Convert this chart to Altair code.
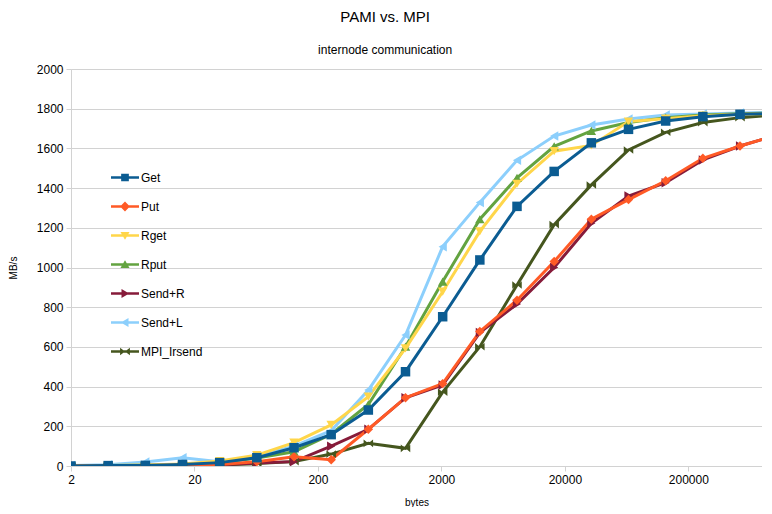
import altair as alt
import pandas as pd

bytes_sizes = [2, 4, 8, 16, 32, 64, 128, 256, 512, 1024, 2048, 4096, 8192,
               16384, 32768, 65536, 131072, 262144, 524288, 1048576]

series_names = ["Get", "Put", "Rget", "Rput", "Send+R", "Send+L", "MPI_Irsend"]

get_vals = [0, 2, 3, 8, 17, 42, 92, 158, 282, 475, 752, 1038, 1308, 1484, 1628, 1696, 1738, 1760, 1772, 1776]
put_vals = [0, 0, 2, 4, 8, 22, 47, 32, 185, 344, 415, 678, 835, 1030, 1243, 1342, 1437, 1550, 1612, 1668]
rget_vals = [0, 2, 5, 10, 25, 55, 118, 207, 349, 593, 878, 1182, 1422, 1586, 1615, 1735, 1750, 1765, 1772, 1777]
rput_vals = [0, 2, 4, 8, 18, 40, 72, 160, 310, 601, 929, 1243, 1452, 1610, 1688, 1730, 1755, 1768, 1775, 1778]
sendr_vals = [0, 0, 2, 4, 6, 15, 22, 100, 185, 344, 408, 672, 816, 1000, 1223, 1360, 1427, 1542, 1612, 1668]
sendl_vals = [2, 6, 20, 42, 22, 50, 100, 178, 383, 660, 1105, 1328, 1540, 1662, 1718, 1748, 1768, 1773, 1778, 1782]
mpi_vals = [0, 0, 1, 3, 5, 12, 22, 60, 114, 89, 372, 601, 912, 1216, 1416, 1592, 1681, 1730, 1755, 1768]

all_vals = [get_vals, put_vals, rget_vals, rput_vals, sendr_vals, sendl_vals, mpi_vals]

colors = ["#0b5c92", "#ff5a26", "#ffd64a", "#63a340", "#861b3a", "#8ccffc", "#45561e"]

marker_shapes = [
    "square", "diamond", "triangle-down", "triangle-up", "triangle-right", "triangle-left",
    "M-1,-0.8L0,0L-1,0.8Z M1,-0.8L1,0.8L0,0Z",
]

LINE = "M-2,-0.17H2V0.17H-2Z "
legend_shapes = [
    LINE + "M-0.55,-0.55H0.55V0.55H-0.55Z",
    LINE + "M0,-0.7L0.7,0L0,0.7L-0.7,0Z",
    LINE + "M-0.65,-0.5H0.65L0,0.6Z",
    LINE + "M0,-0.6L0.65,0.5H-0.65Z",
    LINE + "M-0.5,-0.65L0.6,0L-0.5,0.65Z",
    LINE + "M0.5,-0.65L0.5,0.65L-0.6,0Z",
    LINE + "M-0.7,-0.55L0,0L-0.7,0.55Z M0.7,-0.55L0.7,0.55L0,0Z",
]

# rows built last-series-first so that the first series are drawn on top
rows = []
for name, vals in reversed(list(zip(series_names, all_vals))):
    for b, v in zip(bytes_sizes, vals):
        rows.append({"series": name, "bytes": b, "mbs": v})
df = pd.DataFrame(rows)

FONT = "Liberation Sans"
GRID = "#d2d2d2"

x_enc = alt.X(
    "bytes:Q",
    scale=alt.Scale(type="log", domain=[2, 790000], nice=False),
    axis=alt.Axis(
        values=[2, 20, 200, 2000, 20000, 200000], format="d", grid=False,
        domainColor=GRID, tickColor=GRID, tickSize=5, labelPadding=3,
        labelFontSize=12, labelFont=FONT, labelColor="#000", labelFlush=False,
        labelOverlap=False, title="bytes", titleFont=FONT, titleFontSize=10,
        titleFontWeight="normal", titleColor="#000", titlePadding=12,
    ),
)
y_enc = alt.Y(
    "mbs:Q",
    scale=alt.Scale(domain=[0, 2000], nice=False),
    axis=alt.Axis(
        values=list(range(0, 2001, 200)), format="d", grid=True, gridColor=GRID,
        domainColor=GRID, tickColor=GRID, tickSize=5, labelPadding=3,
        labelFontSize=12, labelFont=FONT, labelColor="#000",
        title="MB/s", titleFont=FONT, titleFontSize=10, titleFontWeight="normal",
        titleColor="#000", titlePadding=18,
    ),
)

lines = alt.Chart(df).mark_line(strokeWidth=3, clip=True).encode(
    x=x_enc, y=y_enc,
    color=alt.Color("series:N", scale=alt.Scale(domain=series_names, range=colors), legend=None),
)

points = alt.Chart(df).mark_point(filled=True, size=90, opacity=1, clip=True).encode(
    x=x_enc, y=y_enc,
    color=alt.Color("series:N", scale=alt.Scale(domain=series_names, range=colors), legend=None),
    shape=alt.Shape("series:N", scale=alt.Scale(domain=series_names, range=marker_shapes), legend=None),
)

leg = alt.Legend(
    title=None, orient="none", legendX=47, legendY=101.5, symbolSize=196,
    labelOffset=9, rowPadding=16, labelFontSize=12, labelFont=FONT,
    labelColor="#000", symbolStrokeWidth=0, padding=0,
)

legend_layer = alt.Chart(df).transform_filter("false").mark_point(filled=True, size=196, opacity=1).encode(
    x=x_enc, y=y_enc,
    color=alt.Color("series:N", scale=alt.Scale(domain=series_names, range=colors), legend=leg),
    shape=alt.Shape("series:N", scale=alt.Scale(domain=series_names, range=legend_shapes), legend=leg),
)

chart = alt.layer(lines, points, legend_layer).resolve_scale(
    color="independent", shape="independent"
).properties(
    width=691, height=397,
    padding={"left": 0, "top": 2, "right": 0, "bottom": 0},
    title=alt.TitleParams(
        text="PAMI vs. MPI", subtitle="internode communication", anchor="middle",
        frame="bounds", font=FONT, fontSize=15, fontWeight="normal", color="#000",
        subtitleFont=FONT, subtitleFontSize=12, subtitleColor="#000",
        subtitlePadding=20, offset=7,
    ),
).configure_view(strokeOpacity=0).configure(background="white")

chart.save("out.html", embed_options={"renderer": "svg", "actions": False})
